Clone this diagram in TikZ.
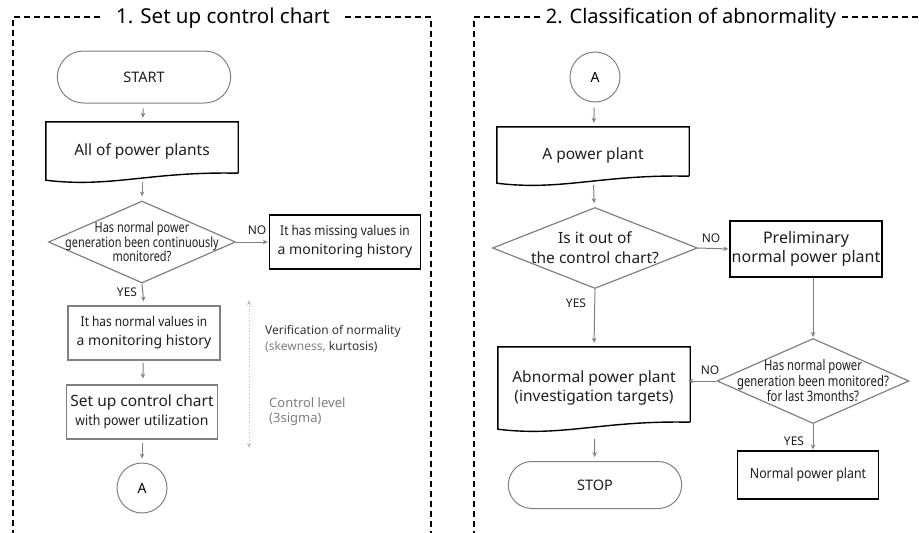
\documentclass[tikz,border=0pt]{standalone}
\usepackage{fontspec}
\setmainfont{Noto Sans}
\newfontfamily\narrowfont[FakeStretch=0.88]{Noto Sans}
\newfontfamily\condfont[FakeStretch=0.78]{Noto Sans}
\usetikzlibrary{shapes.geometric,shapes.misc,arrows.meta}
\definecolor{linegray}{RGB}{128,128,128}
\definecolor{notegray}{RGB}{125,125,125}
\definecolor{textdark}{RGB}{30,30,30}
\tikzset{
	flowarrow/.style={draw=linegray,line width=1pt,-{Stealth[length=5pt,width=4.5pt]},shorten >=4pt},
	terminal/.style={rounded rectangle,draw=linegray,line width=1pt,minimum width=180pt,minimum height=52pt,text=textdark,font=\fontsize{14.5}{16}\selectfont},
	connector/.style={circle,draw=linegray,line width=1pt,minimum size=50pt,inner sep=0pt,font=\fontsize{14}{16}\selectfont\bfseries},
	docbox/.style={inner sep=0pt,minimum width=192pt,align=center,text=textdark,font=\fontsize{15.5}{19}\selectfont},
	decision/.style={diamond,draw=linegray,line width=1.2pt,inner xsep=-80pt,inner ysep=-35pt,align=center,text=textdark},
	greybox/.style={rectangle,draw=linegray,line width=1.2pt,align=center,inner sep=0pt,text=textdark,font=\fontsize{13.5}{19}\selectfont},
	blackbox/.style={rectangle,draw=black,line width=1.4pt,align=center,inner sep=0pt,text=textdark,font=\fontsize{13.5}{19}\selectfont},
	answer/.style={font=\fontsize{12}{14}\selectfont,text=textdark},
	note/.style={anchor=west,inner sep=0pt,font=\fontsize{12}{14}\selectfont},
	frame/.style={line width=1.2pt,dash pattern=on 6pt off 4pt}
}
\newcommand{\wavedoc}[1]{\draw[line width=1.4pt] ([yshift=7pt]#1.south east) -- (#1.north east) -- (#1.north west) -- (#1.south west) .. controls ([xshift=65pt,yshift=-8pt]#1.south west) and ([xshift=105pt,yshift=9pt]#1.south west) .. ([yshift=7pt]#1.south east);}

\begin{document}
\begin{tikzpicture}[x=1pt,y=-1pt]
	\useasboundingbox (0,0) rectangle (919,533);
	\draw[frame] (100,17) -- (13,17) -- (13,533);
	\draw[frame] (345,17) -- (431,17) -- (431,533);
	\node (title1) at (223,18) {\fontsize{20.5}{23}\selectfont 1. Set up control chart};
	\draw[frame] (540,17) -- (474,17) -- (474,533);
	\draw[frame] (842,17) -- (919,17);
	\node (title2) at (691,18) {\fontsize{20}{23}\selectfont 2. Classification of abnormality};

	\node[terminal] (start) at (144,77) {START};
	\node[docbox,minimum height=58pt] (allplants) at (142,151) {All of power plants};
	\wavedoc{allplants}
	\node[decision,minimum width=187pt,minimum height=82pt,font=\condfont\fontsize{14}{14.5}\selectfont] (monitored) at (142,242) {Has normal power\\generation been continuously\\monitored?};
	\node[blackbox,minimum width=151pt,minimum height=54pt] (missing) at (345,242) {{\narrowfont It has missing values in}\\\fontsize{14}{19}\selectfont a monitoring history};
	\node[greybox,minimum width=152pt,minimum height=54pt] (normalvals) at (144,333) {{\narrowfont It has normal values in}\\\fontsize{14}{19}\selectfont a monitoring history};
	\node[greybox,minimum width=151pt,minimum height=54pt,font=\fontsize{14}{19}\selectfont] (setup) at (142,412) {{\fontsize{15.5}{19}\selectfont Set up control chart}\\{\narrowfont with power} utilization};
	\node[connector] (linkout) at (142,488) {A};
	\node[answer] (no1) at (257,230) {NO};
	\node[answer] (yes1) at (127,292) {YES};

	\draw[flowarrow,shorten <=5pt] (start) -- (allplants);
	\draw[flowarrow,shorten <=2pt] (allplants) -- (monitored);
	\draw[flowarrow,shorten >=1pt] (monitored.east) -- (missing.west);
	\draw[flowarrow] (monitored.south) -- (normalvals.north);
	\draw[flowarrow,shorten <=2pt,shorten >=6pt] (normalvals) -- (setup);
	\draw[flowarrow,shorten <=3pt] (setup) -- (linkout);

	\coordinate (spantop) at (249,300);
	\coordinate (spanbot) at (249,448);
	\draw[draw=black!25,line width=.8pt,dotted,{Stealth[length=5pt,width=4pt]}-{Stealth[length=5pt,width=4pt]}] (spantop) -- (spanbot);
	\node[note,text=black!80] (verify) at (265,331) {Verification of normality};
	\node[note] (moments) at (265,347) {\textcolor{notegray}{(skewness,} \textcolor{black!80}{kurtosis)}};
	\node[note,text=notegray,font=\fontsize{13}{15}\selectfont] (level) at (269,403) {Control level};
	\node[note,text=notegray,font=\fontsize{13}{15}\selectfont] (sigma) at (269,419) {(3sigma)};

	\node[connector] (linkin) at (595,77) {A};
	\node[docbox,minimum height=56pt] (plant) at (593,155) {A power plant};
	\wavedoc{plant}
	\node[decision,minimum width=205pt,minimum height=81pt,font=\fontsize{15.5}{20}\selectfont] (outside) at (595,248) {Is it out of\\the control chart?};
	\node[blackbox,minimum width=152pt,minimum height=56pt,font=\fontsize{16}{19}\selectfont] (prelim) at (806,249) {Preliminary\\normal power plant};
	\node[docbox,minimum height=82pt] (abnormal) at (594,388) {Abnormal power plant\\(investigation targets)};
	\wavedoc{abnormal}
	\node[decision,minimum width=192pt,minimum height=85pt,font=\condfont\fontsize{14.5}{12}\selectfont] (recent) at (813,381) {Has normal power\\generation been monitored?\\for last 3months?};
	\node[blackbox,minimum width=141pt,minimum height=48pt] (normalpp) at (808,475) {\narrowfont\fontsize{14}{16}\selectfont Normal power plant};
	\node[terminal,minimum height=47pt] (stop) at (595,485) {STOP};
	\node[answer] (no2) at (711,238) {NO};
	\node[answer] (yes2) at (576,303) {YES};
	\node[answer] (no3) at (710,370) {NO};
	\node[answer] (yes3) at (794,441) {YES};

	\draw[flowarrow,shorten <=5pt] (linkin) -- (plant);
	\draw[flowarrow,shorten <=2pt] (plant) -- (outside);
	\draw[flowarrow,shorten >=1pt] (outside.east) -- (prelim.west);
	\draw[flowarrow] (outside.south) -- (abnormal.north);
	\draw[flowarrow,shorten >=1pt] (recent.north |- prelim.south) -- (recent.north);
	\draw[flowarrow,shorten >=-2pt] (recent.west) -- (recent.west -| abnormal.east);
	\draw[flowarrow,shorten >=1pt] (recent.south) -- (recent.south |- normalpp.north);
	\draw[flowarrow,shorten <=10pt] (abnormal) -- (stop);
\end{tikzpicture}
\end{document}
